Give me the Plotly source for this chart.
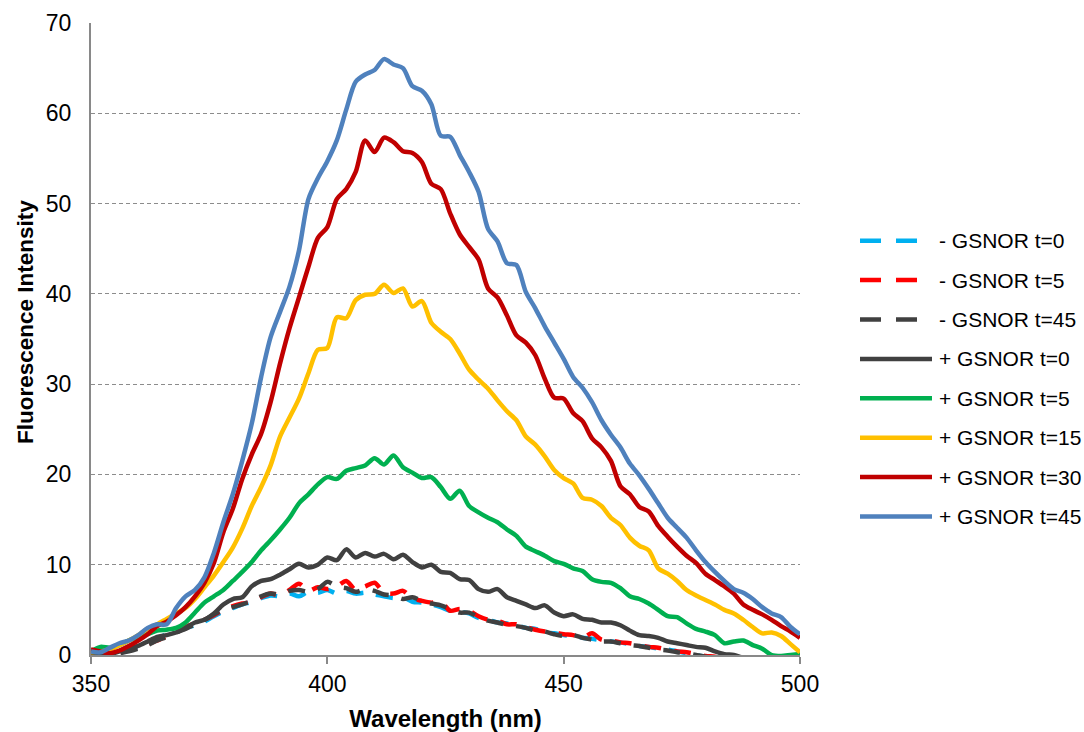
import plotly.graph_objects as go

# Emission wavelengths (nm), sampled every 2 nm
wavelength = list(range(350, 501, 2))

# Fluorescence intensity for each sample (values per wavelength above)
minus_t0 = [
    0.3, 0.2, 0.2, 0.3, 0.5, 0.9, 1.3, 1.8, 2.3, 2.7,
    3.0, 3.3, 3.7, 4.3, 4.8, 5.2, 5.6, 5.9, 6.3, 6.6,
    6.5, 6.8, 6.5, 7.0, 6.9, 7.2, 6.8, 7.1, 6.8, 6.9,
    6.7, 6.5, 6.3, 6.4, 5.9, 5.8, 5.6, 5.3, 4.9, 4.8,
    4.6, 4.1, 3.9, 3.6, 3.5, 3.3, 3.0, 2.9, 2.5, 2.4,
    2.2, 2.1, 1.9, 1.8, 1.6, 1.5, 1.4, 1.2, 1.0, 0.9,
    0.7, 0.6, 0.4, 0.2, 0.0, -0.2, -0.4, -0.5, -0.6, -0.7,
    -0.8, -0.8, -0.9, -0.9, -1.0, -1.0,
]
minus_t5 = [
    0.5, 0.3, 0.1, 0.3, 0.6, 0.9, 1.2, 1.6, 2.1, 2.6,
    3.1, 3.5, 3.9, 4.4, 5.0, 5.4, 5.7, 5.9, 6.4, 6.8,
    6.6, 7.2, 7.9, 7.1, 7.5, 7.3, 7.6, 8.2, 7.2, 7.6,
    8.0, 6.9, 6.8, 7.1, 6.3, 6.0, 5.8, 5.9, 4.9, 5.1,
    4.9, 4.3, 3.9, 3.8, 3.4, 3.4, 3.1, 2.8, 2.6, 2.5,
    2.3, 2.2, 1.9, 2.4, 1.7, 1.6, 1.4, 1.3, 1.1, 0.9,
    0.8, 0.6, 0.4, 0.3, 0.1, -0.1, -0.2, -0.4, -0.5, -0.6,
    -0.7, -0.8, -0.8, -0.9, -0.9, -1.0,
]
minus_t45 = [
    0.2, 0.1, 0.0, 0.2, 0.4, 0.7, 1.1, 1.6, 2.0, 2.5,
    2.9, 3.4, 3.9, 4.5, 5.0, 5.3, 5.6, 6.0, 6.5, 6.8,
    6.7, 7.1, 7.2, 7.0, 7.3, 8.1, 7.6, 7.4, 7.0, 7.3,
    7.1, 6.7, 6.6, 6.2, 6.4, 6.0, 5.7, 5.5, 5.1, 4.7,
    4.7, 4.2, 3.8, 3.6, 3.3, 3.2, 3.0, 2.7, 2.6, 2.3,
    2.1, 2.2, 1.9, 1.7, 1.5, 1.5, 1.3, 1.1, 1.0, 0.8,
    0.6, 0.5, 0.3, 0.2, 0.0, -0.2, -0.3, -0.5, -0.6, -0.7,
    -0.8, -0.8, -0.9, -0.9, -1.0, -1.0,
]
plus_t0 = [
    0.4, 0.2, 0.1, 0.4, 0.8, 1.0, 1.5, 2.0, 2.2, 2.5,
    3.0, 3.6, 3.9, 4.6, 5.6, 6.2, 6.4, 7.6, 8.2, 8.4,
    8.9, 9.5, 10.1, 9.7, 10.0, 10.8, 10.5, 11.7, 10.8, 11.3,
    10.9, 11.2, 10.6, 11.1, 10.3, 9.7, 10.0, 9.2, 9.1, 8.4,
    8.3, 7.3, 7.0, 7.3, 6.4, 6.0, 5.6, 5.2, 5.5, 4.7,
    4.3, 4.5, 4.0, 3.9, 3.6, 3.6, 3.3, 2.7, 2.2, 2.1,
    1.9, 1.5, 1.3, 1.1, 0.9, 0.8, 0.4, 0.1, 0.0, -0.3,
    -0.4, -0.5, -0.6, -0.6, -0.7, -0.8,
]
plus_t5 = [
    0.4, 0.9, 0.8, 1.1, 1.6, 2.0, 2.3, 2.7, 2.8, 3.0,
    3.6, 4.7, 5.8, 6.5, 7.2, 8.2, 9.2, 10.3, 11.6, 12.7,
    13.9, 15.2, 16.8, 17.8, 18.9, 19.7, 19.5, 20.4, 20.7, 21.0,
    21.8, 21.1, 22.1, 20.8, 20.2, 19.6, 19.7, 18.6, 17.3, 18.2,
    16.5, 15.8, 15.2, 14.7, 13.9, 13.2, 12.0, 11.5, 11.0, 10.4,
    10.1, 9.6, 9.3, 8.4, 8.1, 8.0, 7.4, 6.5, 6.2, 5.7,
    5.0, 4.3, 4.2, 3.5, 2.9, 2.6, 2.2, 1.3, 1.5, 1.6,
    1.1, 0.7, 0.0, -0.1, 0.0, 0.1,
]
plus_t15 = [
    0.3, 0.4, 0.6, 1.1, 1.6, 2.2, 2.9, 3.4, 4.0, 4.6,
    5.2, 6.2, 7.5, 8.8, 10.3, 11.9, 14.0, 16.5, 18.6, 21.0,
    24.2, 26.3, 28.4, 31.2, 33.8, 34.0, 37.4, 37.3, 39.3, 39.9,
    40.0, 41.0, 40.1, 40.6, 38.6, 39.2, 36.8, 35.8, 35.0, 33.4,
    31.6, 30.5, 29.5, 28.2, 27.0, 26.0, 24.2, 23.3, 22.0, 20.5,
    19.6, 19.0, 17.4, 17.2, 16.5, 15.2, 14.4, 13.0, 12.1, 11.6,
    9.6, 9.0, 8.2, 7.2, 6.6, 6.1, 5.6, 5.0, 4.6, 3.9,
    3.1, 2.4, 2.5, 2.1, 1.2, 0.3,
]
plus_t30 = [
    0.6, 0.4, 0.2, 0.5, 1.0, 1.6, 2.3, 3.2, 3.7, 4.4,
    5.3, 6.5, 8.0, 10.2, 13.6, 16.2, 19.5, 22.2, 24.5, 28.0,
    32.3, 36.2, 39.6, 43.0, 46.2, 47.4, 50.5, 51.6, 53.5, 57.0,
    55.7, 57.3, 56.8, 55.8, 55.6, 54.6, 52.2, 51.6, 48.9, 46.6,
    45.2, 43.8, 40.6, 39.6, 37.6, 35.4, 34.6, 33.2, 30.6, 28.5,
    28.4, 26.8, 25.9, 24.0, 23.0, 21.5, 18.7, 17.8, 16.4, 15.9,
    14.3, 13.1, 12.0, 11.0, 10.2, 9.0, 8.3, 7.6, 6.8, 5.6,
    5.0, 4.5, 3.9, 3.2, 2.6, 1.9,
]
plus_t45 = [
    0.4, 0.3, 0.8, 1.3, 1.6, 2.2, 3.0, 3.4, 3.4, 5.2,
    6.5, 7.2, 8.6, 11.3, 14.7, 17.8, 21.5, 25.6, 30.8, 35.2,
    38.0, 40.8, 44.8, 50.5, 52.8, 54.7, 57.0, 60.4, 63.5, 64.3,
    64.8, 66.0, 65.4, 65.0, 63.0, 62.5, 61.0, 57.5, 57.4, 55.4,
    53.5, 51.3, 47.2, 45.8, 43.4, 43.2, 40.2, 38.4, 36.4, 34.6,
    32.8, 30.8, 29.6, 28.0, 26.0, 24.4, 23.0, 21.2, 19.9, 18.4,
    16.8, 15.2, 14.1, 13.0, 11.6, 10.3, 9.2, 8.2, 7.3, 6.9,
    6.2, 5.3, 4.6, 4.2, 3.1, 2.3,
]

series_names = [
    "- GSNOR t=0", "- GSNOR t=5", "- GSNOR t=45",
    "+ GSNOR t=0", "+ GSNOR t=5", "+ GSNOR t=15", "+ GSNOR t=30", "+ GSNOR t=45",
]
series_values = [minus_t0, minus_t5, minus_t45, plus_t0, plus_t5, plus_t15, plus_t30, plus_t45]
series_colors = ["#00B0F0", "#FF0000", "#404040", "#404040", "#00B050", "#FFC000", "#C00000", "#4F81BD"]
series_dashed = [True, True, True, False, False, False, False, False]

DASH = "17px,13px"
LINE_W = 4.5
FONT = "Liberation Sans, Arial, sans-serif"

# Plot-area geometry in pixels
W, H = 1084, 732
L, R, T, B = 91, 284, 23, 77
PW, PH = W - L - R, H - T - B

fig = go.Figure()
for name, vals, col, dashed in zip(series_names, series_values, series_colors, series_dashed):
    fig.add_trace(go.Scatter(
        x=wavelength, y=vals, name=name, mode="lines",
        line=dict(color=col, width=LINE_W, dash=DASH if dashed else "solid",
                  shape="spline", smoothing=0.8),
        showlegend=False,
    ))

# Legend drawn as line samples with labels to the right of the plot
shapes, annotations = [], []
for i, (name, col, dashed) in enumerate(zip(series_names, series_colors, series_dashed)):
    ypx = 240.7 + i * 39.4
    yp = (H - B - ypx) / PH
    x_end = 917 if dashed else 932
    shapes.append(dict(
        type="line", xref="paper", yref="paper",
        x0=(860 - L) / PW, x1=(x_end - L) / PW, y0=yp, y1=yp,
        line=dict(color=col, width=4.5, dash="21px,15px" if dashed else "solid"),
    ))
    annotations.append(dict(
        xref="paper", yref="paper", x=(937 - L) / PW, y=yp,
        xanchor="left", yanchor="middle", showarrow=False,
        text=name, font=dict(family=FONT, size=21, color="#000000"),
    ))

# Vertical axis title
annotations.append(dict(
    xref="paper", yref="paper", x=(25 - L) / PW, y=(H - B - 322) / PH,
    xanchor="center", yanchor="middle", showarrow=False, textangle=-90,
    text="<b>Fluorescence Intensity</b>",
    font=dict(family=FONT, size=22.5, color="#000000"),
))

fig.update_layout(
    width=W, height=H,
    margin=dict(l=L, r=R, t=T, b=B, pad=0, autoexpand=False),
    paper_bgcolor="white", plot_bgcolor="white",
    showlegend=False,
    font=dict(family=FONT, color="#000000"),
    shapes=shapes, annotations=annotations,
)
fig.update_xaxes(
    range=[350, 500], tickvals=[350, 400, 450, 500],
    showline=True, linecolor="#898989", linewidth=2,
    ticks="outside", ticklen=7, tickwidth=2, tickcolor="#898989",
    ticklabelstandoff=0, automargin=False,
    showgrid=False, zeroline=False,
    tickfont=dict(family=FONT, size=23, color="#000000"),
    title=dict(text="<b>Wavelength (nm)</b>", font=dict(family=FONT, size=24, color="#000000"), standoff=16),
)
fig.update_yaxes(
    range=[0, 70], tickvals=[0, 10, 20, 30, 40, 50, 60, 70],
    showline=True, linecolor="#898989", linewidth=2,
    ticks="", ticklabelstandoff=13, automargin=False,
    showgrid=True, gridcolor="#8c8c8c", gridwidth=1, griddash="4px,3px",
    zeroline=False,
    tickfont=dict(family=FONT, size=23, color="#000000"),
)

fig.write_html("out.html")
